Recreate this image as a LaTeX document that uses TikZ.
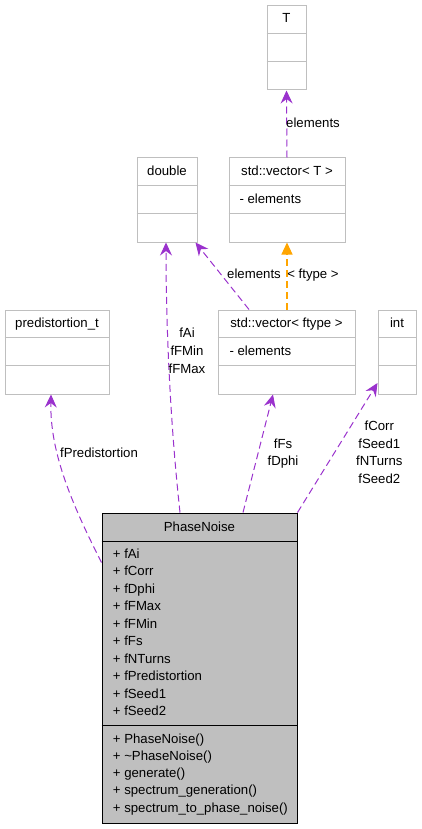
\documentclass[tikz,border=0pt]{standalone}
\usepackage{fontspec}
\setmainfont{Liberation Sans}
\usetikzlibrary{arrows.meta}
\definecolor{edgepurple}{HTML}{9A32CD}
\definecolor{edgeorange}{HTML}{FFA500}
\definecolor{boxgray}{HTML}{BFBFBF}
\definecolor{mainfill}{HTML}{BFBFBF}
\begin{document}
\begin{tikzpicture}[x=1pt,y=-1pt,
  classbox/.style={draw=boxgray, fill=white, line width=1pt, inner sep=0pt, rectangle},
  mainbox/.style={draw=black, fill=mainfill, line width=1pt, inner sep=0pt, rectangle},
  sepline/.style={draw=boxgray, line width=1pt},
  mainsep/.style={draw=black, line width=1pt},
  txt/.style={font=\fontsize{13.2}{17.5}\selectfont, inner sep=0pt},
  rel/.style={draw=edgepurple, line width=1pt, dash pattern=on 7pt off 4pt, -{Stealth[length=13pt,width=12pt,inset=4.5pt]}},
  tmpl/.style={draw=edgeorange, line width=1.1pt, dash pattern=on 7pt off 4pt, -{Triangle[length=12pt,width=11pt]}},
  elabel/.style={txt, align=center}
]
\useasboundingbox (0,0) rectangle (421,829);

% boxes
\node[classbox, minimum width=39pt, minimum height=84pt] (T) at (286.5,48) {};
\node[classbox, minimum width=60pt, minimum height=84pt] (double) at (167,200) {};
\node[classbox, minimum width=116pt, minimum height=84pt] (vecT) at (287,200) {};
\node[classbox, minimum width=104pt, minimum height=84pt] (pd) at (57,352) {};
\node[classbox, minimum width=137pt, minimum height=84pt] (vecf) at (286.5,352) {};
\node[classbox, minimum width=38pt, minimum height=84pt] (int) at (397,352) {};
\node[mainbox, minimum width=195pt, minimum height=310pt] (pn) at (199.5,668) {};

% separators
\foreach \b in {T,double,vecT,pd,vecf,int}{
  \draw[sepline] ([yshift=-28pt]\b.north west) -- ([yshift=-28pt]\b.north east);
  \draw[sepline] ([yshift=-56pt]\b.north west) -- ([yshift=-56pt]\b.north east);
}
\draw[mainsep] ([yshift=-29pt]pn.north west) -- ([yshift=-29pt]pn.north east);
\draw[mainsep] ([yshift=-213pt]pn.north west) -- ([yshift=-213pt]pn.north east);

% box texts
\node[txt, anchor=base] (Tname) at (286.5,23) {T};
\node[txt, anchor=base] (doublename) at (167,175.3) {double};
\node[txt, anchor=base] (vecTname) at (287,175.3) {std::vector< T >};
\node[txt, anchor=base west] (vecTattr) at (239.3,203.3) {- elements};
\node[txt, anchor=base] (pdname) at (57,327.3) {predistortion\_t};
\node[txt, anchor=base] (vecfname) at (286.5,327.3) {std::vector< ftype >};
\node[txt, anchor=base west] (vecfattr) at (229.3,355.3) {- elements};
\node[txt, anchor=base] (intname) at (397,327.3) {int};
\node[txt, anchor=base] (pnname) at (199.5,531.3) {PhaseNoise};
\node[txt, anchor=base west, align=left] (pnattr) at (112.7,715.5) {+ fAi\\+ fCorr\\+ fDphi\\+ fFMax\\+ fFMin\\+ fFs\\+ fNTurns\\+ fPredistortion\\+ fSeed1\\+ fSeed2};
\node[txt, anchor=base west, align=left, font=\fontsize{13.2}{17.2}\selectfont] (pnmeth) at (112.7,812.1) {+ PhaseNoise()\\+ \textasciitilde PhaseNoise()\\+ generate()\\+ spectrum\_generation()\\+ spectrum\_to\_phase\_noise()};

% edges
\draw[rel] (vecT.north) -- (T.south);
\draw[tmpl] ([xshift=0.5pt]vecf.north) -- (vecT.south);
\draw[rel] ([xshift=-37.5pt]vecf.north) -- ([xshift=-2pt]double.south east);
\draw[rel] ([xshift=-19.5pt]pn.north) .. controls +(-12,-110) and +(0,58) .. ([xshift=-1pt]double.south);
\draw[rel] ([xshift=43.5pt]pn.north) -- ([xshift=-13.5pt]vecf.south);
\draw[rel] (pn.north east) -- ([yshift=-31pt]int.west);
\draw[rel] ([yshift=-50pt]pn.north west) .. controls +(-32,-63) and +(-1,56) .. ([xshift=-6pt]pd.south);

% edge labels
\node[elabel, anchor=base] (lT) at (313,127.3) {elements};
\node[elabel, anchor=base] (lDv) at (254,278.6) {elements};
\node[elabel, anchor=base] (lft) at (313,278.6) {< ftype >};
\node[elabel, anchor=base, font=\fontsize{13.2}{18}\selectfont] (lD) at (187,373.3) {fAi\\fFMin\\fFMax};
\node[elabel, anchor=base] (lPd) at (99,457.3) {fPredistortion};
\node[elabel, anchor=base] (lF) at (283,465.5) {fFs\\fDphi};
\node[elabel, anchor=base] (lI) at (379.3,483.1) {fCorr\\fSeed1\\fNTurns\\fSeed2};
\end{tikzpicture}
\end{document}
